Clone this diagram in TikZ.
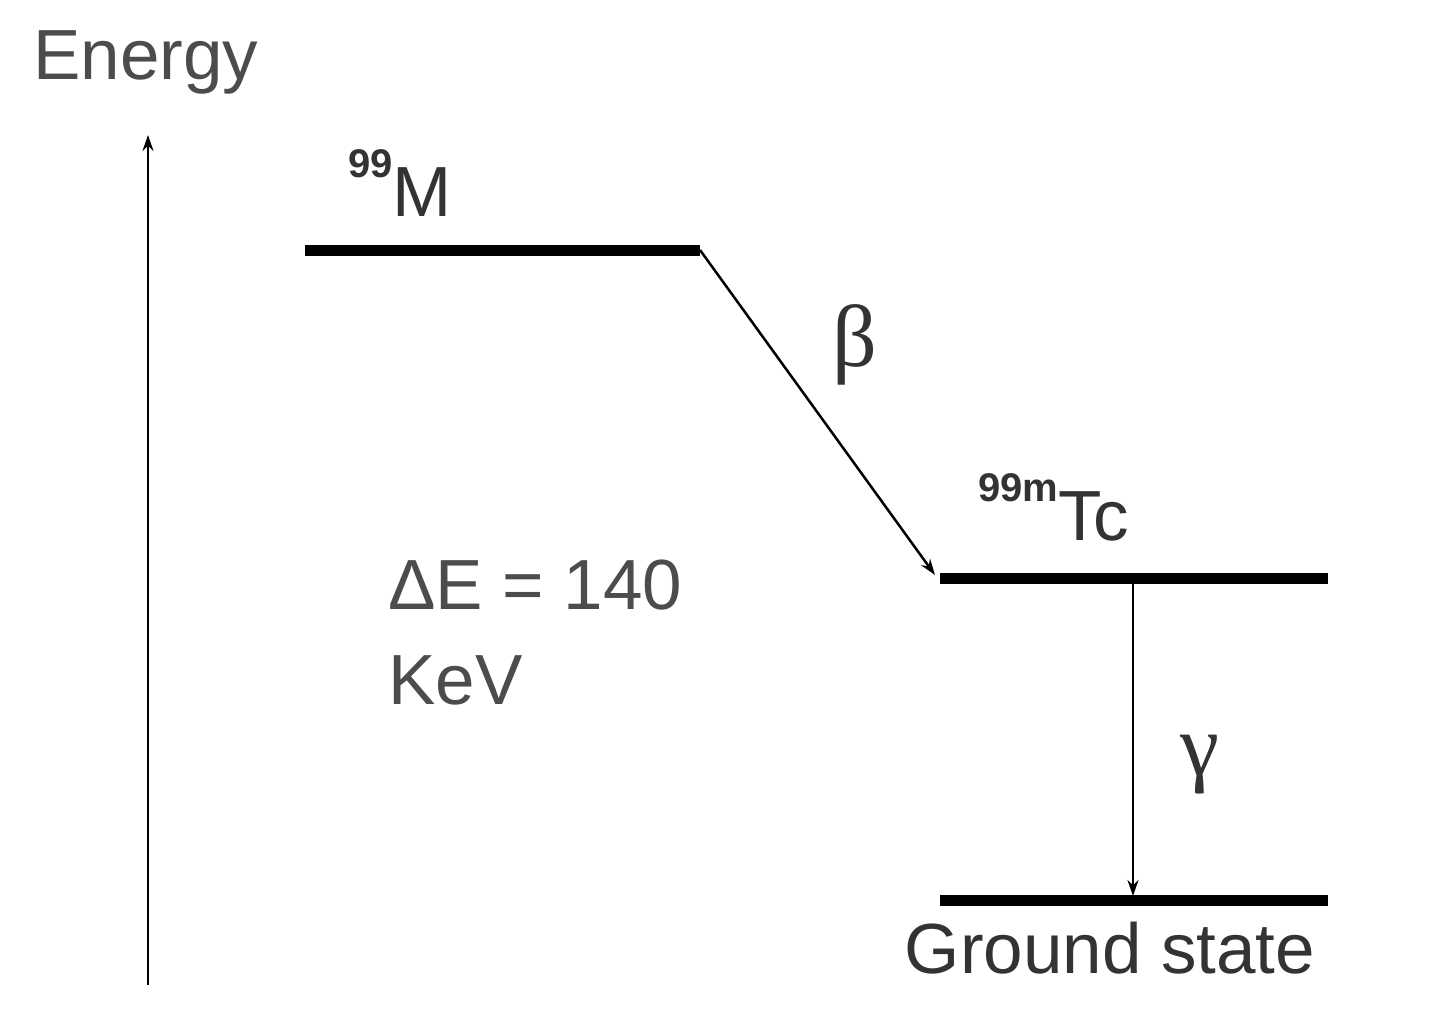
\documentclass[tikz,border=0pt]{standalone}
\usepackage{fontspec}
\setmainfont{Liberation Sans}
\newfontfamily\grk{Liberation Serif}
\usetikzlibrary{arrows.meta}
\newcommand{\supx}[1]{\raisebox{0.55em}{\fontsize{40}{44}\selectfont\bfseries #1}}
\begin{document}
\begin{tikzpicture}[x=1pt,y=-1pt,
  lvl/.style={line width=11pt},
  thinarr/.style={line width=2.5pt,-{Stealth[length=16pt,width=11pt]}},
  lbl/.style={text=black!70,font=\fontsize{71}{76}\selectfont,inner sep=0pt}]
\useasboundingbox (0,0) rectangle (1440,1011);
\node[lbl,anchor=west] (en) at (33,62) {Energy};
\coordinate (ab) at (148,985);
\coordinate (at) at (148,135);
\draw[thinarr] (ab) -- (at);
\node[lbl,text=black!80,anchor=west] (m) at (348,183) {\supx{99}M};
\coordinate (m1) at (305,250); \coordinate (m2) at (700,250);
\draw[lvl] (m1) -- (m2);
\coordinate (t1) at (940,578); \coordinate (t2) at (1328,578);
\draw[lvl] (t1) -- (t2);
\coordinate (g1) at (940,900); \coordinate (g2) at (1328,900);
\draw[lvl] (g1) -- (g2);
\coordinate (bend) at (935,575);
\draw[thinarr] (m2) -- (bend);
\node[lbl,text=black!80,font=\grk\fontsize{88}{92}\selectfont] (beta) at (855,345) {β};
\node[lbl,text=black!80,anchor=west] (tc) at (978,507) {\supx{99m}Tc};
\coordinate (gs) at (1133,578); \coordinate (ge) at (1133,896);
\draw[thinarr] (gs) -- (ge);
\node[lbl,text=black!80,font=\grk\fontsize{88}{92}\selectfont] (gam) at (1200,765) {γ};
\node[lbl,text=black!80] (gr) at (1110,948) {Ground state};
\node[lbl,anchor=west] (de) at (388,585) {ΔE = 140};
\node[lbl,anchor=west] (kev) at (388,680) {KeV};
\end{tikzpicture}
\end{document}
